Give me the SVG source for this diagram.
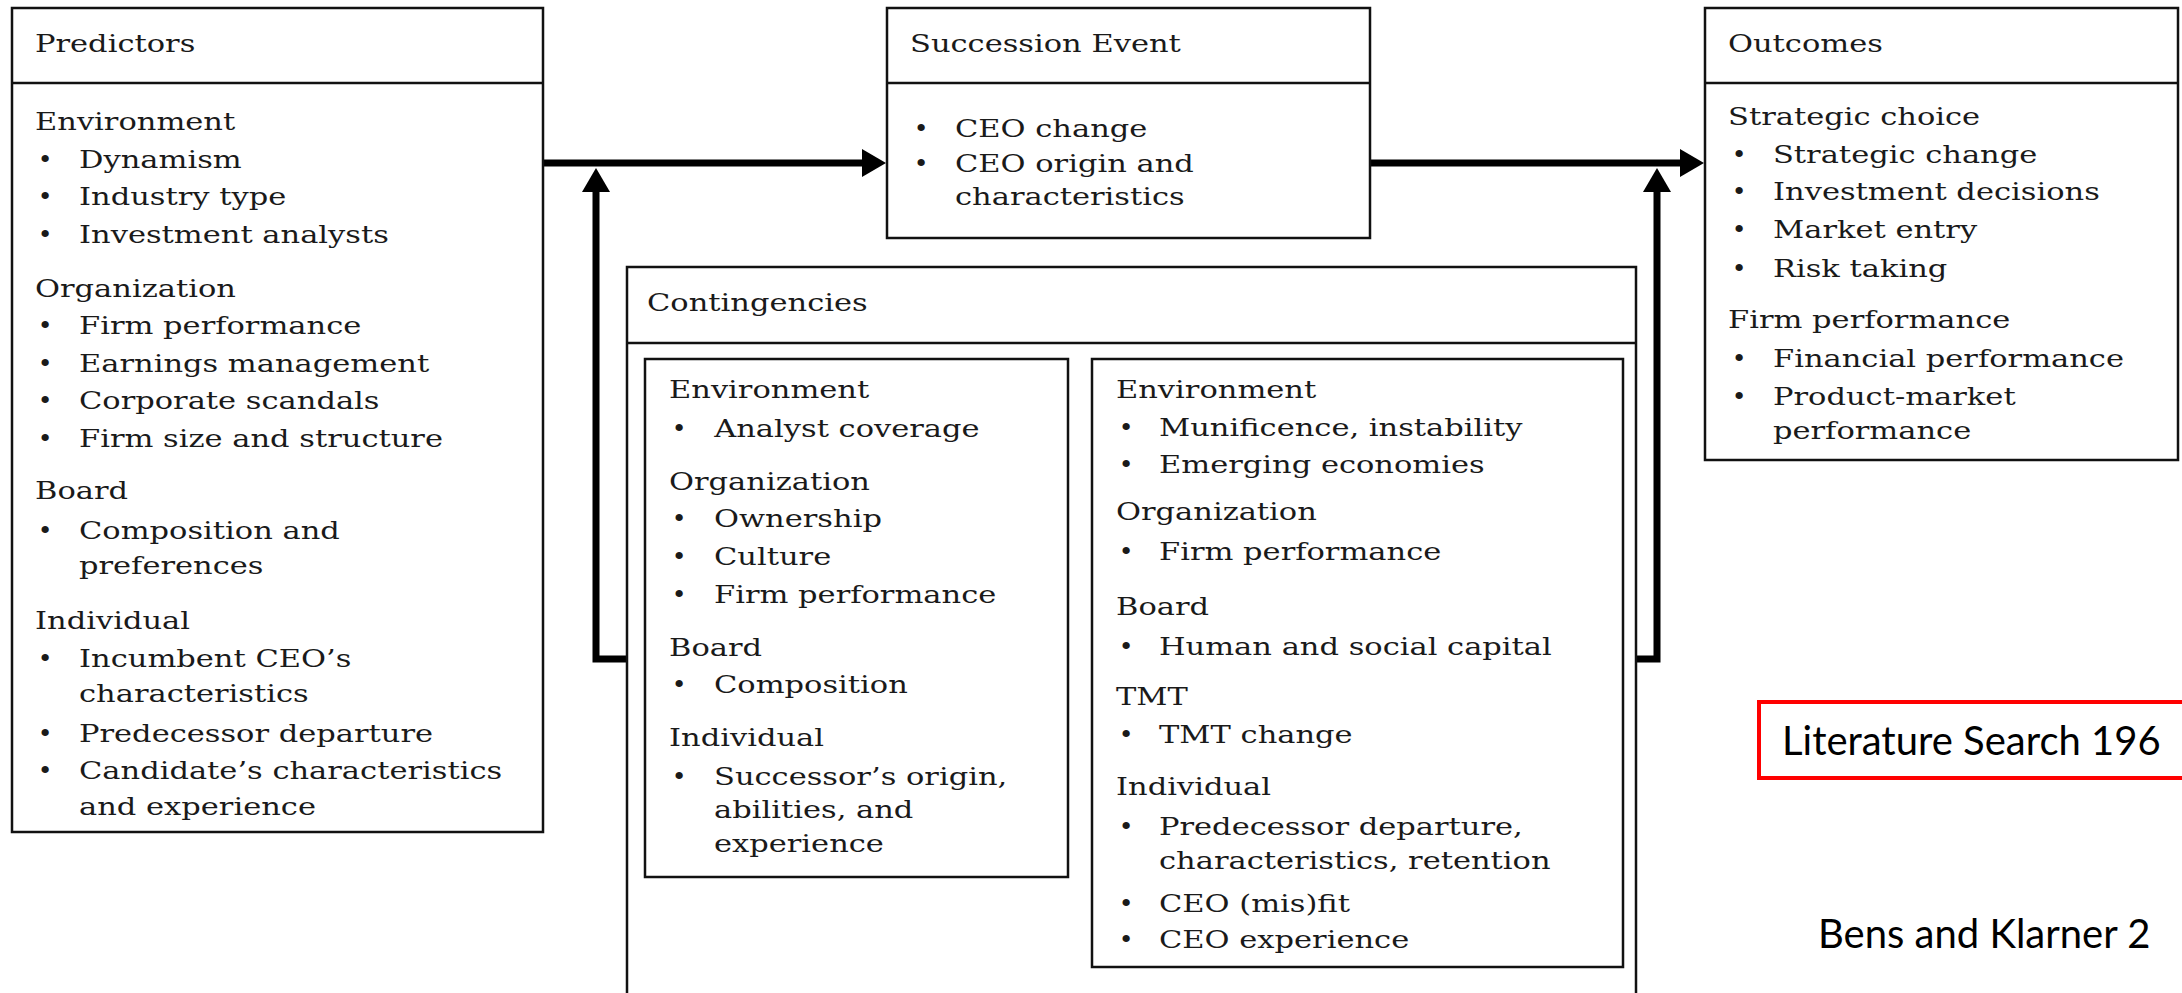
<svg xmlns="http://www.w3.org/2000/svg" width="2182" height="993" viewBox="0 0 2182 993">
<style>
.box{fill:#fff;stroke:#111;stroke-width:2.5}
.div{stroke:#111;stroke-width:2.5}
.conn{fill:none;stroke:#000;stroke-width:7;stroke-linejoin:miter}
text{font-family:"DejaVu Serif","Liberation Serif",serif;font-size:25px;fill:#1a1a1a}
.s{transform-box:fill-box;transform-origin:0 0;transform:scaleX(1.22)}
.b{text-anchor:middle}
.note{font-family:Lato,"Open Sans","Liberation Sans",sans-serif;font-size:40px;fill:#000}
</style>
<defs>
<marker id="ah" markerUnits="userSpaceOnUse" markerWidth="24" markerHeight="28" refX="1" refY="14" orient="auto">
<path d="M0,0 L24,14 L0,28 z" fill="#000"/>
</marker>
</defs>

<g id="connectors">
<path class="conn" d="M543,163 H863" marker-end="url(#ah)"/>
<path class="conn" d="M1370,163 H1681" marker-end="url(#ah)"/>
<path class="conn" d="M645,659 H596 V191" marker-end="url(#ah)"/>
<path class="conn" d="M1623,659 H1657 V191" marker-end="url(#ah)"/>
</g>

<g id="predictors">
<rect class="box" x="12" y="8" width="531" height="824"/>
<line class="div" x1="12" y1="83" x2="543" y2="83"/>
<text class="s" x="35" y="52">Predictors</text>
<text class="s" x="35" y="130">Environment</text>
<text class="b" x="45" y="168">•</text><text class="s" x="79" y="168">Dynamism</text>
<text class="b" x="45" y="205">•</text><text class="s" x="79" y="205">Industry type</text>
<text class="b" x="45" y="243">•</text><text class="s" x="79" y="243">Investment analysts</text>
<text class="s" x="35" y="297">Organization</text>
<text class="b" x="45" y="334">•</text><text class="s" x="79" y="334">Firm performance</text>
<text class="b" x="45" y="372">•</text><text class="s" x="79" y="372">Earnings management</text>
<text class="b" x="45" y="409">•</text><text class="s" x="79" y="409">Corporate scandals</text>
<text class="b" x="45" y="447">•</text><text class="s" x="79" y="447">Firm size and structure</text>
<text class="s" x="35" y="499">Board</text>
<text class="b" x="45" y="539">•</text><text class="s" x="79" y="539">Composition and</text>
<text class="s" x="79" y="574">preferences</text>
<text class="s" x="35" y="629">Individual</text>
<text class="b" x="45" y="667">•</text><text class="s" x="79" y="667">Incumbent CEO’s</text>
<text class="s" x="79" y="702">characteristics</text>
<text class="b" x="45" y="742">•</text><text class="s" x="79" y="742">Predecessor departure</text>
<text class="b" x="45" y="779">•</text><text class="s" x="79" y="779">Candidate’s characteristics</text>
<text class="s" x="79" y="815">and experience</text>
</g>

<g id="succession">
<rect class="box" x="887" y="8" width="483" height="230"/>
<line class="div" x1="887" y1="83" x2="1370" y2="83"/>
<text class="s" x="910" y="52">Succession Event</text>
<text class="b" x="921" y="137">•</text><text class="s" x="955" y="137">CEO change</text>
<text class="b" x="921" y="172">•</text><text class="s" x="955" y="172">CEO origin and</text>
<text class="s" x="955" y="205">characteristics</text>
</g>

<g id="outcomes">
<rect class="box" x="1705" y="8" width="473" height="452"/>
<line class="div" x1="1705" y1="83" x2="2178" y2="83"/>
<text class="s" x="1728" y="52">Outcomes</text>
<text class="s" x="1728" y="125">Strategic choice</text>
<text class="b" x="1739" y="163">•</text><text class="s" x="1773" y="163">Strategic change</text>
<text class="b" x="1739" y="200">•</text><text class="s" x="1773" y="200">Investment decisions</text>
<text class="b" x="1739" y="238">•</text><text class="s" x="1773" y="238">Market entry</text>
<text class="b" x="1739" y="277">•</text><text class="s" x="1773" y="277">Risk taking</text>
<text class="s" x="1728" y="328">Firm performance</text>
<text class="b" x="1739" y="367">•</text><text class="s" x="1773" y="367">Financial performance</text>
<text class="b" x="1739" y="405">•</text><text class="s" x="1773" y="405">Product-market</text>
<text class="s" x="1773" y="439">performance</text>
</g>

<g id="contingencies">
<rect class="box" x="627" y="267" width="1009" height="740"/>
<line class="div" x1="627" y1="343" x2="1636" y2="343"/>
<text class="s" x="647" y="311">Contingencies</text>
</g>

<g id="contingencies-left">
<rect class="box" x="645" y="359" width="423" height="518"/>
<text class="s" x="669" y="398">Environment</text>
<text class="b" x="679" y="437">•</text><text class="s" x="714" y="437">Analyst coverage</text>
<text class="s" x="669" y="490">Organization</text>
<text class="b" x="679" y="527">•</text><text class="s" x="714" y="527">Ownership</text>
<text class="b" x="679" y="565">•</text><text class="s" x="714" y="565">Culture</text>
<text class="b" x="679" y="603">•</text><text class="s" x="714" y="603">Firm performance</text>
<text class="s" x="669" y="656">Board</text>
<text class="b" x="679" y="693">•</text><text class="s" x="714" y="693">Composition</text>
<text class="s" x="669" y="746">Individual</text>
<text class="b" x="679" y="785">•</text><text class="s" x="714" y="785">Successor’s origin,</text>
<text class="s" x="714" y="818">abilities, and</text>
<text class="s" x="714" y="852">experience</text>
</g>

<g id="contingencies-right">
<rect class="box" x="1092" y="359" width="531" height="608"/>
<text class="s" x="1116" y="398">Environment</text>
<text class="b" x="1126" y="436">•</text><text class="s" x="1159" y="436">Munificence, instability</text>
<text class="b" x="1126" y="473">•</text><text class="s" x="1159" y="473">Emerging economies</text>
<text class="s" x="1116" y="520">Organization</text>
<text class="b" x="1126" y="560">•</text><text class="s" x="1159" y="560">Firm performance</text>
<text class="s" x="1116" y="615">Board</text>
<text class="b" x="1126" y="655">•</text><text class="s" x="1159" y="655">Human and social capital</text>
<text class="s" x="1116" y="705">TMT</text>
<text class="b" x="1126" y="743">•</text><text class="s" x="1159" y="743">TMT change</text>
<text class="s" x="1116" y="795">Individual</text>
<text class="b" x="1126" y="835">•</text><text class="s" x="1159" y="835">Predecessor departure,</text>
<text class="s" x="1159" y="869">characteristics, retention</text>
<text class="b" x="1126" y="912">•</text><text class="s" x="1159" y="912">CEO (mis)fit</text>
<text class="b" x="1126" y="948">•</text><text class="s" x="1159" y="948">CEO experience</text>
</g>

<g id="literature-note">
<rect x="1759" y="702" width="440" height="76" fill="none" stroke="#ff0000" stroke-width="4"/>
<text class="note" x="1782" y="755">Literature Search 196</text>
</g>

<g id="citation">
<text class="note" x="1818" y="948">Bens and Klarner 2</text>
</g>
</svg>
